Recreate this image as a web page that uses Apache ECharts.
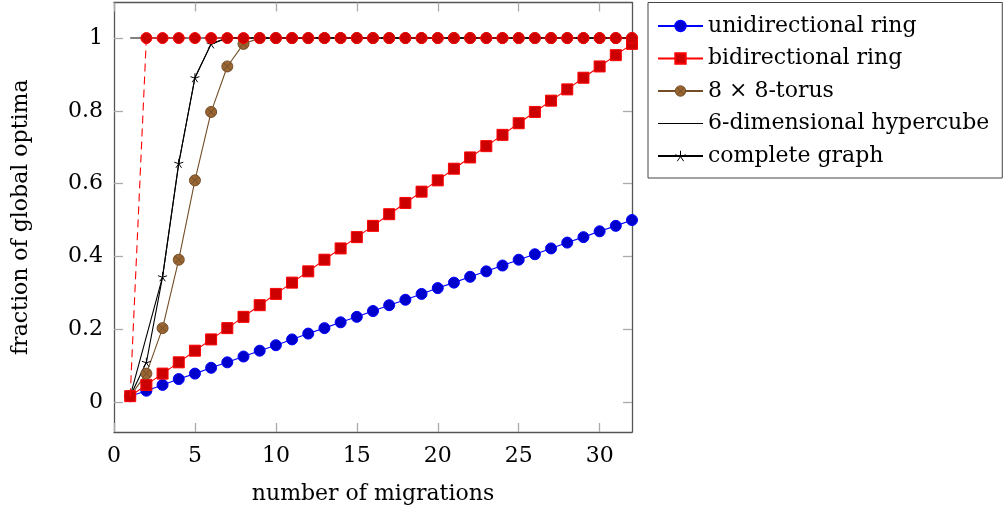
<!DOCTYPE html>
<html><head><meta charset="utf-8">
<script src="https://cdn.jsdelivr.net/npm/echarts@6/dist/echarts.min.js"></script>
<style>html,body{margin:0;padding:0;background:#fff}#c{width:1003px;height:507px}</style>
</head><body><div id="c"></div>
<script>
const migrations = [1,2,3,4,5,6,7,8,9,10,11,12,13,14,15,16,17,18,19,20,21,22,23,24,25,26,27,28,29,30,31,32];
const uniRing = [0.016,0.031,0.047,0.063,0.078,0.094,0.109,0.125,0.141,0.156,0.172,0.188,0.203,0.219,0.234,0.25,0.266,0.281,0.297,0.313,0.328,0.344,0.359,0.375,0.391,0.406,0.422,0.438,0.453,0.469,0.484,0.5];
const biRing = [0.016,0.047,0.078,0.109,0.141,0.172,0.203,0.234,0.266,0.297,0.328,0.359,0.391,0.422,0.453,0.484,0.516,0.547,0.578,0.609,0.641,0.672,0.703,0.734,0.766,0.797,0.828,0.859,0.891,0.922,0.953,0.984];
const torus = [0.016,0.078,0.203,0.391,0.609,0.797,0.922,0.984,1,1,1,1,1,1,1,1,1,1,1,1,1,1,1,1,1,1,1,1,1,1,1,1];
const hypercubeX = [1,3,4,5,6,7,32];
const hypercube = [0.016,0.344,0.656,0.891,0.984,1,1];
const complete = [0.016,0.109,0.344,0.656,0.891,0.984,1,1,1,1,1,1,1,1,1,1,1,1,1,1,1,1,1,1,1,1,1,1,1,1,1,1];
const dashedRed = [0.016,1,1,1,1,1,1,1,1,1,1,1,1,1,1,1,1,1,1,1,1,1,1,1,1,1,1,1,1,1,1,1];
const topLineX = [1,32];
const topLine = [1,1];
const xTicks = [0,5,10,15,20,25,30];
const yTicks = [0,0.2,0.4,0.6,0.8,1];
const yTickLabels = ['0','0.2','0.4','0.6','0.8','1'];
const legendNames = ['unidirectional ring','bidirectional ring','8 \u00d7 8-torus','6-dimensional hypercube','complete graph'];

const pair = (xs, ys) => xs.map((x, i) => [x, ys[i]]);
const hideFirst = arr => arr.map((p, i) => i === 0 ? {value: p, symbol: 'none'} : p);
const FONT = 'DejaVu Serif';
const OTIMES = 'path://M-5,0A5,5,0,1,1,5,0A5,5,0,1,1,-5,0ZM-3.54,-3.54L3.54,3.54M-3.54,3.54L3.54,-3.54';
const STAR = 'path://M0,-5L0,0M4.76,-1.55L0,0M2.94,4.05L0,0M-2.94,4.05L0,0M-4.76,-1.55L0,0';
const LINE_ICON = 'path://M0,0L45,0L45,1.2L0,1.2Z';

const axisCommon = {
  type: 'value', splitLine: {show: false},
  axisLine: {show: true, onZero: false, lineStyle: {color: '#555', width: 1.3}},
  axisTick: {show: true, inside: true, length: 9, lineStyle: {color: '#aaa', width: 1.3}},
};
const chart = echarts.init(document.getElementById('c'), null, {renderer: 'canvas'});
chart.setOption({
  animation: false,
  backgroundColor: '#fff',
  grid: {left: 114, right: 371, top: 2.5, bottom: 75, containLabel: false, outerBoundsMode: 'none'},
  xAxis: [
    Object.assign({}, axisCommon, {min: 0, max: 32, position: 'bottom',
      axisTick: Object.assign({}, axisCommon.axisTick, {customValues: xTicks}),
      axisLabel: {customValues: xTicks, margin: 13, color: '#000', fontFamily: FONT, fontSize: 22},
      name: 'number of migrations', nameLocation: 'middle', nameGap: 51,
      nameTextStyle: {color: '#000', fontFamily: FONT, fontSize: 22}}),
    Object.assign({}, axisCommon, {min: 0, max: 32, position: 'top',
      axisTick: Object.assign({}, axisCommon.axisTick, {customValues: xTicks}),
      axisLabel: {show: false}})
  ],
  yAxis: [
    Object.assign({}, axisCommon, {min: -0.0824, max: 1.0977, position: 'left',
      axisTick: Object.assign({}, axisCommon.axisTick, {customValues: yTicks}),
      axisLabel: {customValues: yTicks, margin: 11, color: '#000', fontFamily: FONT, fontSize: 22,
        formatter: v => { const i = yTicks.findIndex(t => Math.abs(t - v) < 1e-6); return i >= 0 ? yTickLabels[i] : ''; }},
      name: 'fraction of global optima', nameLocation: 'middle', nameGap: 82,
      nameTextStyle: {color: '#000', fontFamily: FONT, fontSize: 22}}),
    Object.assign({}, axisCommon, {min: -0.0824, max: 1.0977, position: 'right',
      axisTick: Object.assign({}, axisCommon.axisTick, {customValues: yTicks}),
      axisLabel: {show: false}})
  ],
  legend: {
    orient: 'vertical', left: 648, top: 2.5,
    backgroundColor: '#fff', borderColor: '#444', borderWidth: 1, borderRadius: 0,
    padding: [12.5, 13, 11, 9], itemWidth: 45, itemHeight: 13, itemGap: 10.5,
    textStyle: {color: '#000', fontFamily: FONT, fontSize: 22, lineHeight: 22},
    selectedMode: false,
    data: [
      {name: legendNames[0]},
      {name: legendNames[1]},
      {name: legendNames[2], itemStyle: {color: '#996633', borderColor: '#734d26', borderWidth: 1}},
      {name: legendNames[3], icon: LINE_ICON, itemStyle: {color: '#000', borderWidth: 0}},
      {name: legendNames[4], itemStyle: {color: '#000', borderColor: '#000', borderWidth: 1}}
    ]
  },
  series: [
    {name: legendNames[0], type: 'line', data: pair(migrations, uniRing), symbol: 'circle', symbolSize: 11,
      lineStyle: {color: '#0000ff', width: 1.1}, itemStyle: {color: '#0000cc', borderColor: '#0000ff', borderWidth: 1}},
    {name: legendNames[1], type: 'line', data: pair(migrations, biRing), symbol: 'rect', symbolSize: 11, z: 3,
      lineStyle: {color: '#ff0000', width: 1.1}, itemStyle: {color: '#cc0000', borderColor: '#ff0000', borderWidth: 1}},
    {name: legendNames[2], type: 'line', data: hideFirst(pair(migrations, torus)), symbol: OTIMES, symbolSize: 11,
      lineStyle: {color: '#734d26', width: 1.1}, itemStyle: {color: '#996633', borderColor: '#734d26', borderWidth: 1}},
    {name: legendNames[3], type: 'line', data: pair(hypercubeX, hypercube), symbol: 'none',
      lineStyle: {color: '#000', width: 1.1}, itemStyle: {color: '#000'}},
    {name: legendNames[4], type: 'line', data: hideFirst(pair(migrations, complete)), symbol: STAR, symbolSize: 9,
      lineStyle: {color: '#000', width: 1.1}, itemStyle: {color: '#000', borderColor: '#000', borderWidth: 1}},
    {name: 'top', type: 'line', data: pair(topLineX, topLine), symbol: 'none',
      lineStyle: {color: '#000', width: 1.1}},
    {name: 'all-to-all', type: 'line', data: hideFirst(pair(migrations, dashedRed)), symbol: 'circle', symbolSize: 11, z: 4,
      lineStyle: {color: '#ff0000', width: 1.1, type: [8, 5]}, itemStyle: {color: '#cc0000', borderColor: '#ff0000', borderWidth: 1}}
  ]
});
</script></body></html>
